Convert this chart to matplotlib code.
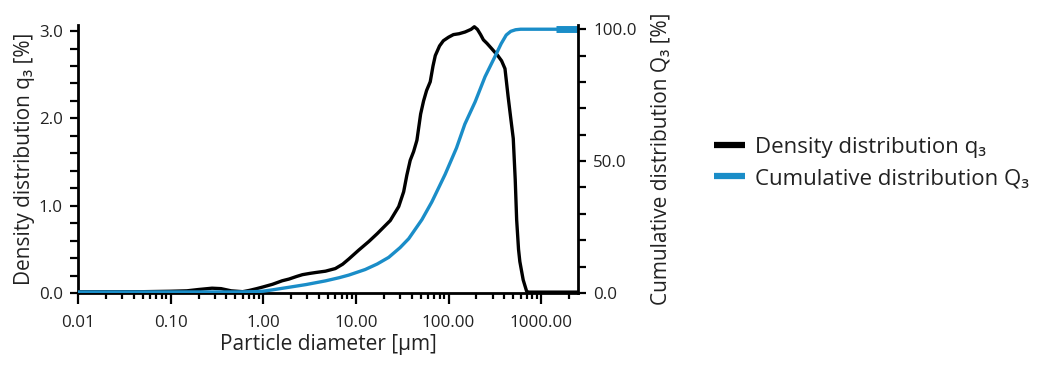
import matplotlib
matplotlib.use("Agg")
import matplotlib.pyplot as plt
from matplotlib.ticker import FixedLocator, NullFormatter, MultipleLocator, FormatStrFormatter

plt.rcParams["font.family"] = ["Open Sans", "DejaVu Sans"]
text_color = "#222222"
blue = "#1a8dc8"

# particle size distribution: density q3 [%] and cumulative Q3 [%]
q3_diam = [0.01, 0.05, 0.1, 0.15, 0.2, 0.28, 0.35, 0.45, 0.6, 0.71, 0.85, 1.0,
           1.26, 1.6, 1.9, 2.3, 2.65, 3.2, 3.7, 4.7, 6.0, 7.2, 8.4, 10.7, 13.8,
           17, 23.5, 29, 32.8, 35.5, 38.6, 42, 45.6, 50, 53.8, 58, 63.5, 68, 72,
           80, 88, 100, 113, 130, 151, 175, 190, 205, 222, 238, 260, 292, 340,
           374, 407, 440, 470, 500, 525, 544, 570, 589, 640, 697, 720, 1000, 2500]
q3_vals = [0.015, 0.015, 0.02, 0.025, 0.04, 0.055, 0.05, 0.025, 0.015, 0.03, 0.05,
           0.07, 0.1, 0.14, 0.16, 0.19, 0.21, 0.225, 0.235, 0.25, 0.28, 0.33, 0.39,
           0.49, 0.59, 0.68, 0.83, 0.99, 1.16, 1.35, 1.52, 1.62, 1.75, 2.05, 2.2,
           2.32, 2.42, 2.6, 2.72, 2.83, 2.89, 2.93, 2.96, 2.97, 2.99, 3.02, 3.05,
           3.02, 2.96, 2.9, 2.86, 2.8, 2.72, 2.66, 2.57, 2.25, 2.0, 1.77, 1.3, 0.84,
           0.5, 0.36, 0.15, 0.02, 0.01, 0.01, 0.01]

Q3_diam = [0.01, 0.5, 0.8, 1.0, 1.26, 2.0, 2.9, 4.7, 6.6, 8.4, 12.6, 17, 22.6, 30,
           37.2, 51.6, 66, 92, 122, 150, 194, 248, 316, 370, 420, 470, 530, 600, 2500]
Q3_vals = [0.4, 0.4, 0.5, 0.7, 1.2, 2.3, 3.2, 4.6, 5.8, 6.8, 8.9, 11, 13.5, 17.2,
           20.6, 27.8, 34.5, 45, 55, 64, 72.5, 82, 89.5, 94.5, 97.8, 99.2, 99.8,
           100, 100]
Q3_end_diam = [1450, 2500]
Q3_end_vals = [100, 100]

x_ticks = [0.01, 0.1, 1, 10, 100, 1000]
x_labels = ["0.01", "0.10", "1.00", "10.00", "100.00", "1000.00"]

fig = plt.figure(figsize=(10.44, 3.65), dpi=100)
ax = fig.add_axes([78 / 1044, 1 - 293 / 365, 500 / 1044, 268 / 365])
ax2 = ax.twinx()

line_q, = ax.plot(q3_diam, q3_vals, color="black", lw=2.4, solid_joinstyle="round",
                  label="Density distribution q\u2083")
line_Q, = ax2.plot(Q3_diam, Q3_vals, color=blue, lw=2.4, solid_joinstyle="round",
                   label="Cumulative distribution Q\u2083")
ax2.plot(Q3_end_diam, Q3_end_vals, color=blue, lw=5, solid_capstyle="butt")

ax.set_xscale("log")
ax.set_xlim(0.01, 2500)
ax.set_ylim(0, 3.07)
ax2.set_ylim(0, 101.6)

ax.xaxis.set_major_locator(FixedLocator(x_ticks))
ax.set_xticklabels(x_labels)
minor = [m * 10.0 ** e for e in range(-2, 4) for m in range(2, 10)]
ax.xaxis.set_minor_locator(FixedLocator([v for v in minor if v <= 2500]))
ax.xaxis.set_minor_formatter(NullFormatter())

ax.yaxis.set_major_locator(MultipleLocator(1.0))
ax.yaxis.set_minor_locator(MultipleLocator(0.2))
ax.yaxis.set_major_formatter(FormatStrFormatter("%.1f"))
ax2.yaxis.set_major_locator(MultipleLocator(50))
ax2.yaxis.set_minor_locator(MultipleLocator(10))
ax2.yaxis.set_major_formatter(FormatStrFormatter("%.1f"))

for a in (ax, ax2):
    for side in a.spines:
        a.spines[side].set_linewidth(2)
    a.spines["top"].set_visible(False)
    a.tick_params(which="both", width=1.6, labelsize=12.2, labelcolor=text_color)
    a.tick_params(axis="y", which="both", length=6, pad=5)
ax.spines["right"].set_visible(False)
ax2.spines["left"].set_visible(False)
ax2.spines["bottom"].set_visible(False)
ax.tick_params(axis="x", which="major", length=8, pad=8)
ax.tick_params(axis="x", which="minor", length=4)

ax.set_xlabel("Particle diameter [µm]", fontsize=15, color=text_color, labelpad=2)
ax.set_ylabel("Density distribution q\u2083 [%]", fontsize=15, color=text_color, labelpad=3)
ax2.set_ylabel("Cumulative distribution Q\u2083 [%]", fontsize=15, color=text_color, labelpad=10)

leg = fig.legend(handles=[line_q, line_Q], loc="center left",
                 bbox_to_anchor=(694 / 1044, 1 - 163 / 365), frameon=False,
                 fontsize=16, handlelength=1.4, handletextpad=0.45, labelspacing=0.45)
for h in leg.legend_handles:
    h.set_linewidth(4.5)
    h.set_solid_capstyle("butt")
for t in leg.get_texts():
    t.set_color(text_color)

fig.savefig("out.png", dpi=100)
